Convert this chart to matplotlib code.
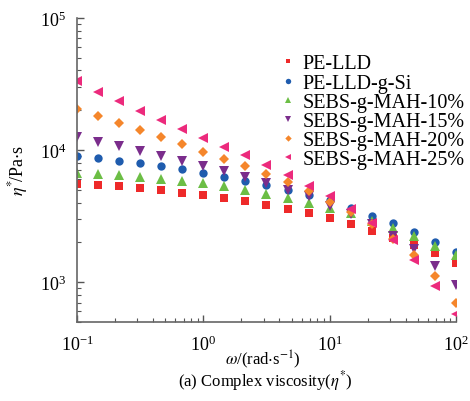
import numpy as np
import matplotlib
matplotlib.use('Agg')
import matplotlib.pyplot as plt

# Complex viscosity vs angular frequency

plt.rcParams['font.family'] = ['Liberation Serif', 'DejaVu Serif']
plt.rcParams['mathtext.fontset'] = 'stix'

# angular frequency, rad/s (6 points per decade)
omega = [0.1, 0.1468, 0.2154, 0.3162, 0.4642, 0.6813, 1.0, 1.468, 2.154, 3.162,
         4.642, 6.813, 10.0, 14.68, 21.54, 31.62, 46.42, 68.13, 100.0]

pe_lld = [5500, 5400, 5310, 5130, 4950, 4700, 4540, 4300, 4090, 3810,
          3570, 3310, 3040, 2735, 2420, 2140, 1907, 1660, 1386]
pe_lld_g_si = [8960, 8650, 8300, 7930, 7520, 7140, 6700, 6280, 5850, 5430,
               5000, 4560, 4150, 3640, 3180, 2785, 2380, 2020, 1700]
sebs_10 = [6700, 6580, 6430, 6240, 6030, 5790, 5590, 5310, 5020, 4680,
           4350, 3970, 3620, 3330, 2915, 2550, 2220, 1885, 1600]
sebs_15 = [12480, 11560, 10720, 9880, 9060, 8300, 7600, 6930, 6280, 5640,
           4990, 4480, 3790, 3270, 2750, 2220, 1778, 1330, 955]
sebs_20 = [20400, 18100, 15900, 14100, 12550, 11050, 9700, 8590, 7600, 6610,
           5690, 4860, 4060, 3370, 2750, 2120, 1600, 1116, 693]
sebs_25 = [33500, 27600, 23400, 19700, 16800, 14400, 12300, 10600, 9120, 7730,
           6500, 5380, 4450, 3570, 2785, 2080, 1476, 938, 573]

labels = ['PE-LLD', 'PE-LLD-g-Si', 'SEBS-g-MAH-10%', 'SEBS-g-MAH-15%',
          'SEBS-g-MAH-20%', 'SEBS-g-MAH-25%']
series = [pe_lld, pe_lld_g_si, sebs_10, sebs_15, sebs_20, sebs_25]
markers = ['s', 'o', '^', 'v', 'D', '<']
sizes = [5.5, 6, 6.5, 6.5, 5, 6.5]
colors = ['#ee2a2a', '#1f5cae', '#6cbe45', '#7b2d8c', '#f5862b', '#ec2a7c']

fig = plt.figure(figsize=(4.7, 4.02), dpi=100)
ax = fig.add_axes([0.164, 0.197, 0.806, 0.756])

for y, lab, m, ms, c in zip(series, labels, markers, sizes, colors):
    ax.plot(omega, y, linestyle='none', marker=m, markersize=ms, color=c,
            markeredgewidth=0, label=lab)

ax.set_xscale('log')
ax.set_yscale('log')
ax.set_xlim(0.1, 100)
ax.set_ylim(500, 1e5)

for s in ['top', 'right']:
    ax.spines[s].set_visible(False)
for s in ['left', 'bottom']:
    ax.spines[s].set_color('#666666')
    ax.spines[s].set_linewidth(1.2)

ax.tick_params(which='both', direction='in', colors='#555555', labelcolor='black',
               labelsize=13)
ax.tick_params(which='major', length=5, width=1)
ax.tick_params(which='minor', length=3, width=0.8)
ax.tick_params(axis='x', which='major', pad=9)
ax.tick_params(axis='y', which='major', pad=8)

ax.set_ylabel(r'$\eta^{*}\!$/Pa$\cdot$s', fontsize=13)
ax.yaxis.set_label_coords(-0.125, 0.5)
ax.set_xlabel(r'$\omega$/(rad$\cdot$s$^{-1}$)', fontsize=12)
ax.xaxis.set_label_coords(0.49, -0.085)
fig.text(0.565, 0.038, r'(a) Complex viscosity($\eta^{*}$)', ha='center', fontsize=12)

ax.legend(loc='upper left', bbox_to_anchor=(0.526, 0.88), frameon=False, fontsize=14.5,
          markerscale=0.65, handletextpad=0.1, labelspacing=0.0, handlelength=1.2,
          borderaxespad=0, borderpad=0)

plt.savefig('out.png', dpi=100)
